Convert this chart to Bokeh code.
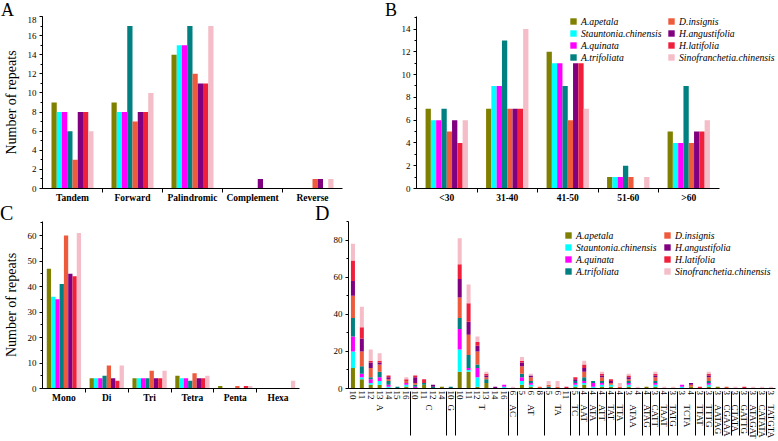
from bokeh.plotting import figure
from bokeh.models import (Range1d, FactorRange, FixedTicker, SingleIntervalTicker,
                          Legend, LegendItem, ColumnDataSource, Div)
from bokeh.layouts import row, column
from bokeh.transform import dodge
from bokeh.embed import file_html
from bokeh.resources import INLINE

SERIF = "Liberation Serif"

species = ["A.apetala", "Stauntonia.chinensis", "A.quinata", "A.trifoliata",
           "D.insignis", "H.angustifolia", "H.latifolia", "Sinofranchetia.chinensis"]
colors = ["#808000", "#00FFFF", "#FF00FF", "#008080",
          "#EE5A3C", "#800080", "#F0203C", "#F5BDC7"]

# ---------------- Panel A : repeat types ----------------
a_categories = ["Tandem", "Forward", "Palindromic", "Complement", "Reverse"]
a_apetala = [9, 9, 14, 0, 0]
a_stauntonia = [8, 8, 15, 0, 0]
a_quinata = [8, 8, 15, 0, 0]
a_trifoliata = [6, 17, 17, 0, 0]
a_insignis = [3, 7, 12, 0, 1]
a_angustifolia = [8, 8, 11, 1, 1]
a_latifolia = [8, 8, 11, 0, 0]
a_sinofranchetia = [6, 10, 17, 0, 1]

# ---------------- Panel B : repeat lengths ----------------
b_categories = ["<30", "31-40", "41-50", "51-60", ">60"]
b_apetala = [7, 7, 12, 1, 5]
b_stauntonia = [6, 9, 11, 1, 4]
b_quinata = [6, 9, 11, 1, 4]
b_trifoliata = [7, 13, 9, 2, 9]
b_insignis = [5, 7, 6, 1, 4]
b_angustifolia = [6, 7, 11, 0, 5]
b_latifolia = [4, 7, 11, 0, 5]
b_sinofranchetia = [6, 14, 7, 1, 6]

# ---------------- Panel C : SSR types ----------------
c_categories = ["Mono", "Di", "Tri", "Tetra", "Penta", "Hexa"]
c_apetala = [47, 4, 4, 5, 1, 0]
c_stauntonia = [36, 4, 4, 4, 0, 0]
c_quinata = [35, 4, 4, 4, 0, 0]
c_trifoliata = [41, 5, 4, 3, 0, 0]
c_insignis = [60, 9, 7, 6, 1, 0]
c_angustifolia = [45, 4, 4, 4, 0, 0]
c_latifolia = [44, 3, 4, 4, 1, 0]
c_sinofranchetia = [61, 9, 7, 5, 1, 3]

# ---------------- Panel D : SSR motifs (motif, repeat number) ----------------
d_motifs = ["A"] * 7 + ["C"] * 4 + ["G"] + ["T"] * 6 + ["AC"] + ["AT"] * 3 + ["TA"] * 3 + ["TC"] + \
    ["AAT", "ATA", "ATT", "TAT", "TTA", "ATAA", "ATAA", "ATAG", "CATT", "TAAT", "TATG",
     "TCTA", "TCTA", "TTAT", "TTTG", "AATAG", "CGAAA", "CTATA", "GATTG",
     "ATAGAT", "CATATA", "TATGTA"]
d_numbers = ["10", "11", "12", "13", "14", "15", "16",
             "10", "11", "12", "14",
             "10",
             "10", "11", "12", "13", "14", "16",
             "6", "5", "6", "8", "5", "6", "11", "5",
             "4", "4", "4", "4", "4", "3", "4", "4", "3", "4", "3",
             "3", "4", "3", "3", "3", "3", "3", "3", "3", "3", "3"]
d_apetala = [11, 5, 2, 2, 0, 0, 1, 0, 2, 0, 1, 0, 9, 9, 1, 3, 0, 0,
             0, 2, 1, 0, 0, 0, 0, 1, 2, 0, 1, 1, 0, 1, 0, 1, 1, 0, 0, 0, 1, 0, 1, 1, 0, 0, 0, 0, 0, 0]
d_stauntonia = [9, 1, 1, 2, 1, 0, 1, 0, 0, 0, 0, 0, 12, 1, 5, 0, 0, 1,
                0, 2, 1, 0, 0, 0, 0, 1, 1, 1, 1, 1, 0, 1, 0, 0, 1, 0, 0, 1, 0, 0, 1, 0, 0, 0, 0, 0, 0, 0]
d_quinata = [8, 2, 2, 2, 1, 0, 1, 1, 0, 0, 0, 0, 11, 1, 5, 0, 0, 1,
             0, 2, 1, 0, 0, 0, 0, 1, 1, 2, 1, 0, 0, 1, 0, 0, 1, 0, 0, 1, 0, 0, 1, 0, 0, 0, 0, 0, 0, 0]
d_trifoliata = [10, 4, 1, 3, 2, 1, 0, 1, 1, 1, 0, 1, 6, 7, 2, 2, 0, 0,
                0, 2, 1, 0, 1, 0, 0, 1, 2, 1, 1, 0, 0, 1, 0, 0, 1, 0, 0, 0, 0, 0, 1, 0, 0, 0, 0, 0, 0, 0]
d_insignis = [12, 8, 5, 4, 1, 0, 1, 1, 0, 0, 0, 0, 11, 11, 7, 1, 0, 0,
              0, 4, 2, 1, 1, 1, 0, 0, 3, 0, 2, 1, 1, 1, 0, 0, 2, 0, 0, 0, 1, 0, 2, 0, 1, 0, 0, 0, 0, 0]
d_angustifolia = [8, 7, 3, 1, 1, 0, 0, 3, 0, 1, 0, 0, 10, 7, 3, 1, 1, 0,
                  0, 2, 1, 0, 0, 0, 0, 1, 2, 0, 1, 1, 0, 1, 0, 0, 1, 0, 0, 0, 1, 0, 1, 0, 0, 0, 0, 0, 0, 0]
d_latifolia = [11, 6, 1, 1, 1, 0, 1, 1, 2, 0, 0, 0, 8, 10, 2, 1, 0, 0,
               0, 1, 0, 0, 0, 0, 1, 1, 2, 0, 1, 1, 0, 1, 0, 0, 1, 0, 0, 0, 0, 1, 1, 0, 0, 0, 1, 0, 0, 0]
d_sinofranchetia = [9, 11, 6, 4, 0, 0, 1, 0, 0, 0, 0, 0, 14, 10, 3, 1, 0, 0,
                    1, 2, 1, 0, 2, 3, 0, 0, 2, 0, 1, 0, 2, 1, 1, 0, 1, 1, 1, 0, 0, 0, 1, 0, 0, 1, 0, 1, 1, 1]


def make_fig(w, h, xr, yr, ml, mr, mt, mb):
    p = figure(width=w, height=h, x_range=xr, y_range=yr, output_backend="svg",
               toolbar_location=None, min_border_left=ml, min_border_right=mr,
               min_border_top=mt, min_border_bottom=mb)
    p.xgrid.visible = False
    p.ygrid.visible = False
    p.outline_line_color = None
    return p


def style_y(p, interval, title=None):
    ax = p.yaxis[0]
    ax.ticker = SingleIntervalTicker(interval=interval, num_minor_ticks=2)
    ax.major_tick_in = 0
    ax.major_tick_out = 3
    ax.minor_tick_in = 0
    ax.minor_tick_out = 2
    ax.axis_line_color = "black"
    ax.major_tick_line_color = "black"
    ax.minor_tick_line_color = "black"
    ax.major_label_text_font = SERIF
    ax.major_label_text_font_size = "9px"
    ax.major_label_text_color = "black"
    ax.major_label_standoff = 3
    if title:
        ax.axis_label = title
        ax.axis_label_text_font = SERIF
        ax.axis_label_text_font_style = "normal"
        ax.axis_label_text_font_size = "14px"
        ax.axis_label_text_color = "black"
        ax.axis_label_standoff = 6


def letter(text, w, h, pad, size, lh):
    return Div(text=f'<div style="font-family:\'{SERIF}\';font-size:{size}px;line-height:{lh}px;'
                    f'padding-left:{pad}px;color:black;margin:0">{text}</div>',
               width=w, height=h, margin=(0, 0, 0, 0))


def add_legends(p, rs, x1, x2, y):
    for names, rr, x in ((species[:4], rs[:4], x1), (species[4:], rs[4:], x2)):
        lg = Legend(items=[LegendItem(label=n, renderers=[r]) for n, r in zip(names, rr)],
                    location=(x, y), orientation="vertical",
                    background_fill_alpha=0, border_line_color=None,
                    padding=0, margin=0, spacing=0,
                    glyph_width=8, glyph_height=8, label_height=12, label_standoff=4,
                    label_text_font=SERIF, label_text_font_style="italic",
                    label_text_font_size="9.7px", label_text_color="black")
        p.add_layout(lg)


def grouped_panel(cats, series, w, h, ml, mr, mt, mb, ymax, interval, frac,
                  ytitle=None, x_end=None):
    n = len(cats)
    xr = Range1d(-0.5, n - 0.5 if x_end is None else x_end)
    p = make_fig(w, h, xr, Range1d(0, ymax), ml, mr, mt, mb)
    k = len(series)
    bw = frac / k
    rs = []
    for j, (vals, col) in enumerate(zip(series, colors)):
        src = ColumnDataSource(dict(pos=list(range(n)), count=vals))
        r = p.vbar(x=dodge("pos", (j - (k - 1) / 2) * bw), top="count", bottom=0,
                   width=bw, source=src, fill_color=col, line_color=None)
        rs.append(r)
    ax = p.xaxis[0]
    ax.bounds = (-0.5, n - 0.5)
    ax.ticker = FixedTicker(ticks=list(range(n)), minor_ticks=[i + 0.5 for i in range(n - 1)])
    ax.major_label_overrides = {i: c for i, c in enumerate(cats)}
    ax.major_tick_in = 0
    ax.major_tick_out = 0
    ax.minor_tick_in = 0
    ax.minor_tick_out = 4
    ax.axis_line_color = "black"
    ax.minor_tick_line_color = "black"
    ax.major_label_text_font = SERIF
    ax.major_label_text_font_style = "bold"
    ax.major_label_text_font_size = "9.5px"
    ax.major_label_text_color = "black"
    ax.major_label_standoff = 0
    style_y(p, interval, ytitle)
    return p, rs


# sizes (page drawn edge to edge)
S1, H1 = 16, 189   # letter strip + figure row 1
S2, H2 = 16, 220   # letter strip + figure row 2
WA, WB = 385, 393
WC, WD = 310, 468

# Panel A
pA, _ = grouped_panel(a_categories,
                      [a_apetala, a_stauntonia, a_quinata, a_trifoliata,
                       a_insignis, a_angustifolia, a_latifolia, a_sinofranchetia],
                      WA, H1, 39, 43, 0, 16, 18, 2, 0.7, "Number of repeats")

# Panel B (frame reaches the right edge so that the legend fits; axis bounded)
B_ML, B_MR = 31, 1
B_FW = WB - B_ML - B_MR
pB, rsB = grouped_panel(b_categories,
                        [b_apetala, b_stauntonia, b_quinata, b_trifoliata,
                         b_insignis, b_angustifolia, b_latifolia, b_sinofranchetia],
                        WB, H1, B_ML, B_MR, 0, 16, 15.1, 2, 0.7,
                        x_end=-0.5 + B_FW / 60.5)
add_legends(pB, rsB, 153, 251, 125)

# Panel C
pC, _ = grouped_panel(c_categories,
                      [c_apetala, c_stauntonia, c_quinata, c_trifoliata,
                       c_insignis, c_angustifolia, c_latifolia, c_sinofranchetia],
                      WC, H2, 41, 11, 0, 53, 65.5, 10, 0.8, "Number of repeats")

# Panel D
factors = list(zip(d_motifs, d_numbers))
xrD = FactorRange(factors=factors, factor_padding=0, group_padding=0,
                  subgroup_padding=0, range_padding=0)
pD = make_fig(WD, H2, xrD, Range1d(0, 90), 38, 3, 0, 53)
keys = ["apetala", "stauntonia", "quinata", "trifoliata",
        "insignis", "angustifolia", "latifolia", "sinofranchetia"]
srcD = ColumnDataSource(dict(x=factors, apetala=d_apetala, stauntonia=d_stauntonia,
                             quinata=d_quinata, trifoliata=d_trifoliata,
                             insignis=d_insignis, angustifolia=d_angustifolia,
                             latifolia=d_latifolia, sinofranchetia=d_sinofranchetia))
rsD = pD.vbar_stack(keys, x="x", width=0.45, color=colors, line_color=None, source=srcD)
axD = pD.xaxis[0]
axD.major_label_orientation = "vertical"
axD.group_label_orientation = "vertical"
axD.major_label_text_font = SERIF
axD.major_label_text_font_size = "9px"
axD.major_label_text_color = "black"
axD.major_label_standoff = 2
axD.group_text_font = SERIF
axD.group_text_font_size = "9px"
axD.group_text_font_style = "normal"
axD.group_text_color = "black"
axD.separator_line_color = "black"
axD.separator_line_width = 1
axD.major_tick_line_color = None
axD.major_tick_out = 0
axD.major_tick_in = 0
axD.axis_line_color = "black"
style_y(pD, 20)
add_legends(pD, rsD, 216, 315, 111)

layout = column(
    row(letter("A", WA, S1, 1, 18, 20), letter("B", WB, S1, 0, 18, 20)),
    row(pA, pB),
    row(letter("C", WC, S2, 0, 20, 16), letter("D", WD, S2, 5, 20, 16)),
    row(pC, pD),
)
open("out.html", "w").write(file_html(layout, INLINE))
